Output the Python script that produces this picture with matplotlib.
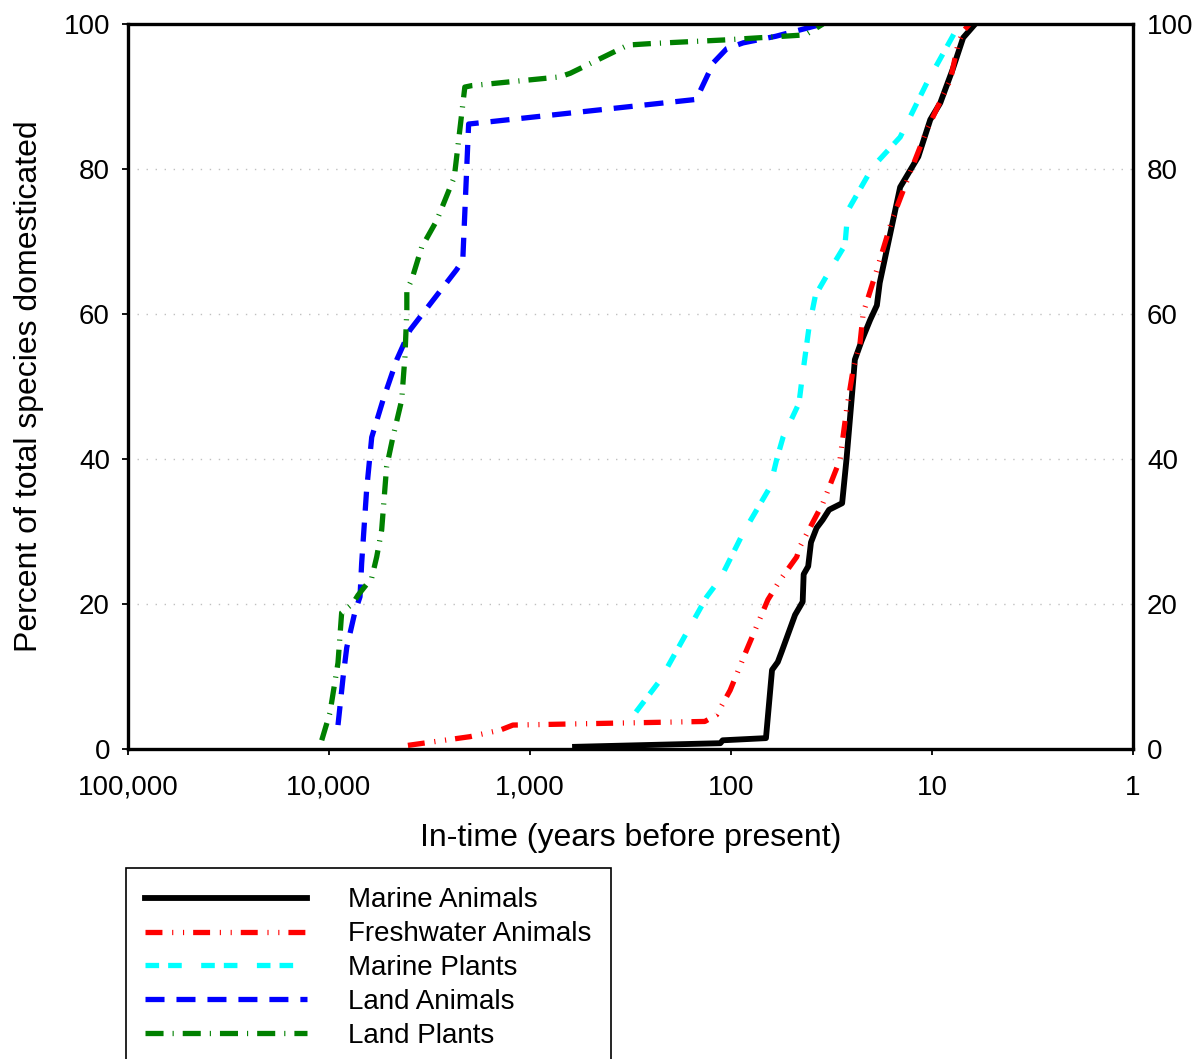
import matplotlib
matplotlib.use("Agg")
import matplotlib.pyplot as plt

plt.rcParams['font.family'] = ['Liberation Sans', 'DejaVu Sans']
plt.rcParams['lines.scale_dashes'] = False

# ---------------- data ----------------
marine_animals_years = [597, 113, 110, 67, 62.5, 58.5, 56, 48, 44, 43.5, 41.3, 40, 37.5, 35, 32.5, 28,
                        26.6, 24.7, 24.2, 22.4, 20.3, 18.8, 18.2, 14.4, 11.7, 10.2, 9.1, 7.9, 7.0, 6.1]
marine_animals_pct = [0.3, 0.8, 1.2, 1.5, 10.9, 12.0, 13.4, 18.5, 20.3, 24.1, 25.2, 28.5, 30.5, 31.6, 33.0, 33.9,
                      40.1, 50.6, 53.7, 56.3, 59.2, 61.2, 64.3, 77.5, 81.7, 86.8, 89.1, 93.7, 98.1, 100]

freshwater_animals_years = [4050, 1990, 1410, 1216, 135, 118, 101, 83.5, 65.5, 57, 47.1, 45.4, 34.9, 28.7,
                            26.6, 24.7, 22.8, 22.0, 18.8, 15.8, 12.9, 10.6, 8.1, 7.4, 6.9, 6.5]
freshwater_animals_pct = [0.5, 1.7, 2.6, 3.3, 3.8, 4.7, 8.1, 13.7, 20.6, 23.3, 26.5, 27.9, 33.9, 39.9,
                          46.8, 52.3, 56.0, 60.1, 66.1, 73.0, 79.4, 85.4, 92.3, 97.4, 99.2, 100]

marine_plants_years = [297, 225, 132, 113, 87, 64, 59.3, 55.1, 45.9, 44.4, 40.9, 38, 31.5, 27.1, 26.2,
                       19.7, 14.4, 10.6, 7.3]
marine_plants_pct = [5.1, 9.5, 21.0, 23.5, 29.8, 36.1, 39.9, 43.0, 47.7, 50.9, 58.2, 62.6, 66.5, 69.5, 74.3,
                     80.3, 84.4, 91.9, 100]

land_animals_years = [9020, 8510, 8160, 7430, 7010, 6880, 6500, 6130, 5390, 4600, 3950, 2320, 2160, 2020,
                      149, 122, 105, 87, 60, 35]
land_animals_pct = [3.3, 9.9, 14.0, 18.9, 21.0, 25.6, 35.7, 43.0, 48.1, 53.7, 57.8, 66.1, 67.4, 86.2,
                    89.6, 94.7, 96.6, 97.4, 98.3, 100]

land_plants_years = [10870, 9890, 9020, 8650, 7600, 7180, 6130, 5790, 5470, 5170, 4810, 4350, 4190, 4100,
                     4100, 3880, 3460, 2910, 2380, 2110, 1950, 713, 631, 325, 250, 108, 42.7, 34.9]
land_plants_pct = [1.2, 5.0, 11.9, 18.8, 20.1, 21.2, 23.6, 26.5, 30.2, 38.9, 43.0, 48.1, 54.1, 60.6,
                   63.3, 64.7, 69.2, 72.9, 78.9, 91.3, 91.5, 92.7, 93.2, 97.1, 97.3, 97.8, 98.5, 100]

series_labels = ["Marine Animals", "Freshwater Animals", "Marine Plants", "Land Animals", "Land Plants"]
xtick_values = [100000, 10000, 1000, 100, 10, 1]
xtick_labels = ["100,000", "10,000", "1,000", "100", "10", "1"]
ytick_values = [0, 20, 40, 60, 80, 100]
ytick_labels = ["0", "20", "40", "60", "80", "100"]

# ---------------- figure ----------------
fig = plt.figure(figsize=(11.99, 10.59), dpi=100)
L, R, T, B = 128 / 1199, 1133 / 1199, 1 - 24 / 1059, 1 - 749 / 1059
ax = fig.add_axes([L, B, R - L, T - B])

ax.set_xscale('log')
ax.set_xlim(100000, 1)
ax.set_ylim(0, 100)

styles = [
    dict(color='#000000', linewidth=4.2, linestyle='-'),
    dict(color='#FF0000', linewidth=3.8, linestyle=(0, (12.2, 7.0, 0.8, 7.0, 0.8, 6.5))),
    dict(color='#00FFFF', linewidth=3.8, linestyle=(0, (9.8, 6.5, 9.8, 14.0))),
    dict(color='#0000FF', linewidth=3.8, linestyle=(0, (13.7, 8.6))),
    dict(color='#008000', linewidth=3.8, linestyle=(0, (13.0, 6.5, 0.8, 6.5))),
]
data = [
    (marine_animals_years, marine_animals_pct),
    (freshwater_animals_years, freshwater_animals_pct),
    (marine_plants_years, marine_plants_pct),
    (land_animals_years, land_animals_pct),
    (land_plants_years, land_plants_pct),
]
handles = []
for (xs, ys), st, lab in zip(data, styles, series_labels):
    ln, = ax.plot(xs, ys, label=lab, dash_capstyle='butt', solid_joinstyle='round', **st)
    handles.append(ln)

# grid
ax.set_yticks(ytick_values, ytick_labels)
ax.yaxis.grid(True, linestyle=(0, (1.0, 5.5)), color='#C0C0C0', linewidth=1.0)
ax.set_axisbelow(True)

ax.set_xticks(xtick_values, xtick_labels)
ax.xaxis.set_minor_locator(matplotlib.ticker.NullLocator())

for sp in ax.spines.values():
    sp.set_linewidth(2.4)
    sp.set_color('black')

ax.tick_params(axis='x', which='major', direction='out', length=4.5, width=1.3, pad=14, labelsize=20)
ax.tick_params(axis='y', which='major', direction='out', length=4.0, width=1.3, pad=9, labelsize=20,
               left=True, right=False)

ax2 = ax.twinx()
ax2.set_ylim(0, 100)
ax2.set_yticks(ytick_values, ytick_labels)
ax2.tick_params(axis='y', length=0, pad=10, labelsize=20)
for sp in ax2.spines.values():
    sp.set_visible(False)

ax.set_xlabel("In-time (years before present)", fontsize=23, labelpad=16)
ax.set_ylabel("Percent of total species domesticated", fontsize=23, labelpad=14)

leg = ax.legend(handles, series_labels, loc='upper left',
                bbox_to_anchor=(126 / 1199, 1 - 868 / 1059), bbox_transform=fig.transFigure,
                frameon=True, fancybox=False, framealpha=1, edgecolor='black',
                fontsize=20, handlelength=5.8, handletextpad=1.5, labelspacing=0.28,
                borderpad=0.7, borderaxespad=0)
leg.get_frame().set_linewidth(1.2)

fig.savefig("out.png", dpi=100)
